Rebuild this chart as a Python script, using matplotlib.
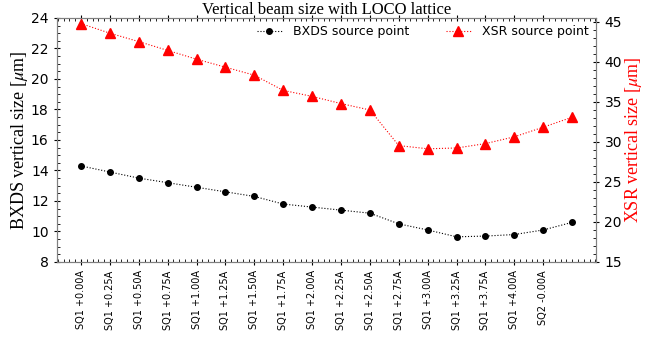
import matplotlib
matplotlib.use('Agg')
import matplotlib.pyplot as plt
from matplotlib.ticker import AutoMinorLocator, MultipleLocator

# x tick labels (last point has no label)
labels = ['SQ1 +0.00A', 'SQ1 +0.25A', 'SQ1 +0.50A', 'SQ1 +0.75A', 'SQ1 +1.00A',
          'SQ1 +1.25A', 'SQ1 +1.50A', 'SQ1 +1.75A', 'SQ1 +2.00A', 'SQ1 +2.25A',
          'SQ1 +2.50A', 'SQ1 +2.75A', 'SQ1 +3.00A', 'SQ1 +3.25A', 'SQ1 +3.75A',
          'SQ1 +4.00A', 'SQ2 -0.00A']

bxds = [14.3, 13.9, 13.5, 13.2, 12.9, 12.6, 12.3, 11.8, 11.6, 11.4,
        11.2, 10.5, 10.1, 9.65, 9.7, 9.8, 10.1, 10.6]
xsr = [44.8, 43.6, 42.55, 41.45, 40.35, 39.35, 38.35, 36.45, 35.7, 34.8,
       34.0, 29.55, 29.15, 29.25, 29.8, 30.65, 31.85, 33.1]

x = list(range(len(bxds)))

plt.rcParams['mathtext.fontset'] = 'stix'

fig = plt.figure(figsize=(6.58, 3.37), dpi=100)
ax = fig.add_axes([0.0866, 0.2226, 0.8194, 0.724])
ax2 = ax.twinx()

l1, = ax.plot(x, bxds, ':', color='black', linewidth=0.8, marker='o',
              markersize=4, label='BXDS source point')
l2, = ax2.plot(x, xsr, ':', color='red', linewidth=0.8, marker='^',
               markersize=7, label='XSR source point')

ax.set_xlim(-0.83, 17.83)
ax.set_ylim(8, 24)
ax2.set_ylim(15, 45.5)

ax.set_xticks(range(len(labels)))
ax.set_xticklabels(labels, rotation=90, fontsize=7)
ax.xaxis.set_minor_locator(AutoMinorLocator(5))
ax.yaxis.set_major_locator(MultipleLocator(2))
ax.yaxis.set_minor_locator(AutoMinorLocator(4))
ax2.yaxis.set_major_locator(MultipleLocator(5))
ax2.yaxis.set_minor_locator(AutoMinorLocator(5))

ax.tick_params(axis='both', which='major', direction='inout', length=5,
               top=True, labelsize=10)
ax.tick_params(axis='x', which='major', labelsize=7)
ax.tick_params(axis='both', which='minor', direction='in', length=2, top=True)
ax2.tick_params(axis='y', which='major', direction='inout', length=5, labelsize=10)
ax2.tick_params(axis='y', which='minor', direction='in', length=2)

for a in (ax, ax2):
    for s in a.spines.values():
        s.set_color('gray')

ax.set_ylabel(r'BXDS vertical size [$\mu$m]', family='Liberation Serif', fontsize=13,
              labelpad=1)
ax2.set_ylabel(r'XSR vertical size [$\mu$m]', family='Liberation Serif', fontsize=13,
               color='red', labelpad=1)
ax.set_title('Vertical beam size with LOCO lattice', family='Liberation Serif',
             fontsize=12, pad=2)

ax2.legend([l1, l2], ['BXDS source point', 'XSR source point'], loc='upper right',
           ncol=2, frameon=False, fontsize=9, borderaxespad=0.2,
           columnspacing=2.9, handletextpad=0.9)

fig.savefig('out.png', dpi=100)
